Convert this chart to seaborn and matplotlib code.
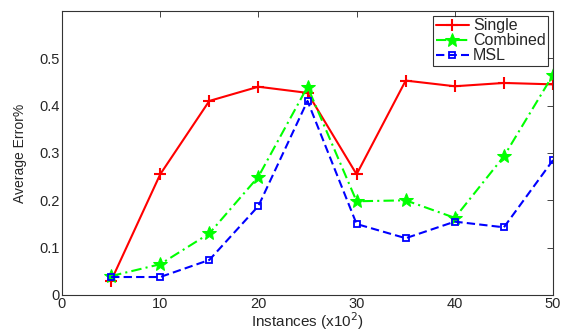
import matplotlib
matplotlib.use("Agg")
import matplotlib.pyplot as plt
import seaborn as sns
import pandas as pd

instances = [5, 10, 15, 20, 25, 30, 35, 40, 45, 50]
single = [0.030, 0.255, 0.410, 0.440, 0.427, 0.255, 0.453, 0.441, 0.448, 0.445]
combined = [0.040, 0.065, 0.130, 0.250, 0.440, 0.198, 0.200, 0.163, 0.293, 0.465]
msl = [0.038, 0.038, 0.074, 0.188, 0.410, 0.150, 0.120, 0.155, 0.143, 0.285]
x_ticks = [0, 10, 20, 30, 40, 50]
y_ticks = [0, 0.1, 0.2, 0.3, 0.4, 0.5]
y_tick_labels = ["0", "0.1", "0.2", "0.3", "0.4", "0.5"]

sns.set_style("white")
plt.rcParams['font.family'] = ['Liberation Sans', 'DejaVu Sans']

df = pd.DataFrame({"x": instances, "Single": single, "Combined": combined, "MSL": msl})

fig = plt.figure(figsize=(5.67, 3.31), dpi=100)
ax = fig.add_axes([62/567, 1 - 295/331, (553-62)/567, (295-11)/331])

sns.lineplot(data=df, x="x", y="Single", ax=ax, color="#ff0000", linestyle="-",
             marker="+", markersize=8, markeredgewidth=1.5, markeredgecolor="#ff0000",
             linewidth=1.5, label="Single")
sns.lineplot(data=df, x="x", y="Combined", ax=ax, color="#00ff00", linestyle=(0, (5, 2, 1, 2)),
             marker="*", markersize=10, markeredgecolor="#00ff00", linewidth=1.5, label="Combined")
sns.lineplot(data=df, x="x", y="MSL", ax=ax, color="#0000ff", linestyle=(0, (4, 2)),
             marker="s", markersize=5, markerfacecolor="none", markeredgecolor="#0000ff",
             markeredgewidth=1.3, linewidth=1.5, label="MSL")

ax.set_xlim(0, 50)
ax.set_ylim(0, 0.6)
ax.set_xticks(x_ticks)
ax.set_yticks(y_ticks)
ax.set_yticklabels(y_tick_labels)
ax.tick_params(direction="in", top=True, right=True, labelsize=10.5, length=4, width=0.6, pad=1.5)
ax.set_xlabel("Instances (x10$^2$)", fontsize=11)
ax.xaxis.set_label_coords(0.5, -0.1127, transform=ax.transAxes)
ax.xaxis.label.set_va("baseline")
ax.set_ylabel("Average Error%", fontsize=10)
ax.yaxis.set_label_coords(-42 / 491, 0.5, transform=ax.transAxes)
ax.yaxis.label.set_va("center")
for s in ax.spines.values():
    s.set_linewidth(0.8)
    s.set_color("#333333")

leg = ax.legend(loc="upper right", fontsize=11.5, frameon=True, fancybox=False,
                borderpad=0.15, labelspacing=0.0, handlelength=2.1, handletextpad=0.25,
                borderaxespad=0.3)
leg.get_frame().set_edgecolor("black")
leg.get_frame().set_linewidth(0.8)

fig.savefig("out.png", dpi=100)
